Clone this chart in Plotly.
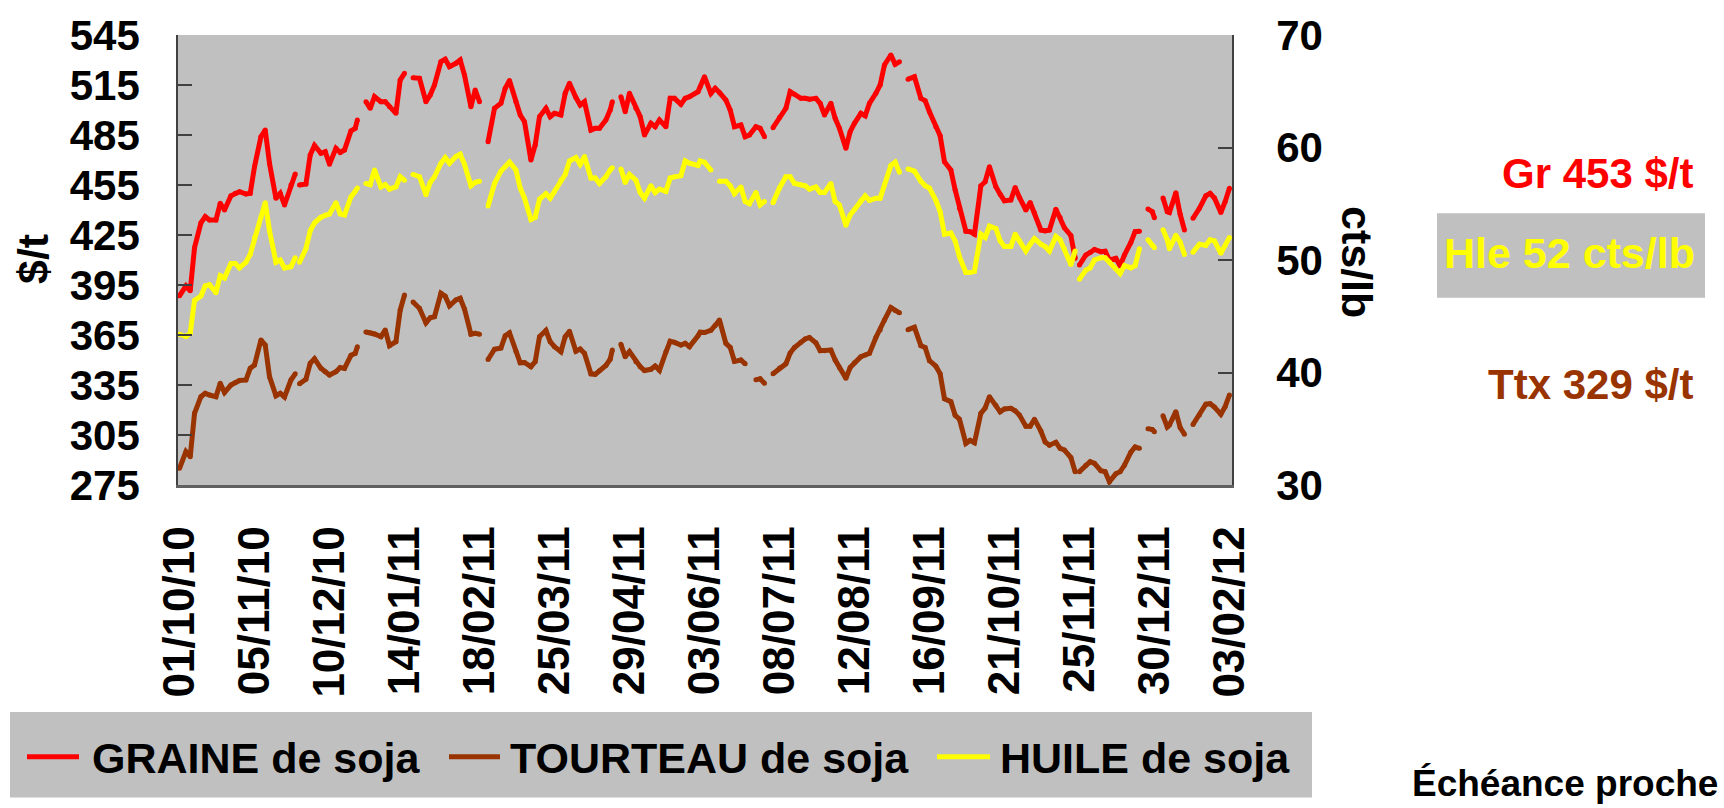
import plotly.graph_objects as go

# ---------------- data ----------------
dates = [
    "2010-10-01", "2010-10-04", "2010-10-06", "2010-10-08", "2010-10-11", "2010-10-13", "2010-10-15",
    "2010-10-18", "2010-10-20", "2010-10-22", "2010-10-25", "2010-10-27", "2010-10-29",
    "2010-11-01", "2010-11-03", "2010-11-05", "2010-11-08", "2010-11-10", "2010-11-12",
    "2010-11-15", "2010-11-17", "2010-11-19", "2010-11-22", "2010-11-24", "2010-11-25", "2010-11-26",
    "2010-11-29", "2010-12-01", "2010-12-03", "2010-12-06", "2010-12-08", "2010-12-10",
    "2010-12-13", "2010-12-15", "2010-12-17", "2010-12-20", "2010-12-22", "2010-12-23", "2010-12-24",
    "2010-12-27", "2010-12-29", "2010-12-31", "2011-01-03", "2011-01-05", "2011-01-07",
    "2011-01-10", "2011-01-12", "2011-01-14", "2011-01-17", "2011-01-18", "2011-01-21",
    "2011-01-24", "2011-01-26", "2011-01-28", "2011-01-31", "2011-02-02", "2011-02-04",
    "2011-02-07", "2011-02-09", "2011-02-11", "2011-02-14", "2011-02-16", "2011-02-18",
    "2011-02-21", "2011-02-22", "2011-02-25", "2011-02-28", "2011-03-02", "2011-03-04",
    "2011-03-07", "2011-03-09", "2011-03-11", "2011-03-14", "2011-03-16", "2011-03-18",
    "2011-03-21", "2011-03-23", "2011-03-25", "2011-03-28", "2011-03-30", "2011-04-01",
    "2011-04-04", "2011-04-06", "2011-04-08", "2011-04-11", "2011-04-13", "2011-04-15",
    "2011-04-18", "2011-04-20", "2011-04-21", "2011-04-22", "2011-04-25", "2011-04-27", "2011-04-29",
    "2011-05-02", "2011-05-04", "2011-05-06", "2011-05-09", "2011-05-11", "2011-05-13",
    "2011-05-16", "2011-05-18", "2011-05-20", "2011-05-23", "2011-05-25", "2011-05-27",
    "2011-05-31", "2011-06-01", "2011-06-03", "2011-06-06", "2011-06-08", "2011-06-10",
    "2011-06-13", "2011-06-15", "2011-06-17", "2011-06-20", "2011-06-22", "2011-06-24",
    "2011-06-27", "2011-06-29", "2011-07-01", "2011-07-04", "2011-07-05", "2011-07-08",
    "2011-07-11", "2011-07-13", "2011-07-15", "2011-07-18", "2011-07-20", "2011-07-22",
    "2011-07-25", "2011-07-27", "2011-07-29", "2011-08-01", "2011-08-03", "2011-08-05",
    "2011-08-08", "2011-08-10", "2011-08-12", "2011-08-15", "2011-08-17", "2011-08-19",
    "2011-08-22", "2011-08-24", "2011-08-26", "2011-08-29", "2011-08-31", "2011-09-02",
    "2011-09-05", "2011-09-06", "2011-09-09", "2011-09-12", "2011-09-14", "2011-09-16",
    "2011-09-19", "2011-09-21", "2011-09-23", "2011-09-26", "2011-09-28", "2011-09-30",
    "2011-10-03", "2011-10-05", "2011-10-07", "2011-10-10", "2011-10-12", "2011-10-14",
    "2011-10-17", "2011-10-19", "2011-10-21", "2011-10-24", "2011-10-26", "2011-10-28",
    "2011-10-31", "2011-11-02", "2011-11-04", "2011-11-07", "2011-11-09", "2011-11-11",
    "2011-11-14", "2011-11-16", "2011-11-18", "2011-11-21", "2011-11-23", "2011-11-24", "2011-11-25",
    "2011-11-28", "2011-11-30", "2011-12-02", "2011-12-05", "2011-12-07", "2011-12-09",
    "2011-12-12", "2011-12-14", "2011-12-16", "2011-12-19", "2011-12-21", "2011-12-23",
    "2011-12-26", "2011-12-27", "2011-12-29", "2011-12-30", "2012-01-02", "2012-01-03",
    "2012-01-05", "2012-01-06", "2012-01-09", "2012-01-11", "2012-01-13", "2012-01-16",
    "2012-01-17", "2012-01-20", "2012-01-23", "2012-01-25", "2012-01-27", "2012-01-30",
    "2012-02-01", "2012-02-03",
]

# GRAINE de soja ($/t, left axis)
graine = [
    388.5, 394.5, 391.5, 417.4, 432.3, 436, 434,
    434, 444, 440, 448.5, 450, 451,
    449.6, 450, 466, 484, 488, 468,
    447, 450, 443, 455, 461.6, None, 455,
    455.6, 473, 478.7, 474, 475, 467.5,
    477, 474.5, 476, 487.4, 489, 494, None,
    505, 501, 508, 505, 505, 502,
    498, 518, 522, None, 519.3, 519,
    505, 509, 515, 529, 530.5, 526,
    528, 530, 521, 502, 512, 505,
    None, 481, 501, 504, 513, 517.7,
    505, 497, 493, 470, 479, 496,
    501, 496, 498, 497, 510, 516,
    507.5, 503, 505, 488, 489, 489,
    494, 500, 505, None, 508, 499, 510,
    501, 496, 485, 492, 490, 494,
    490, 507, 507, 503.4, 507, 508,
    511, 514, 520, 510, 513, 510.5,
    506, 500, 490, 491, 484, 485,
    490, 489, 484, None, 489.4, 495.5,
    501, 511, 509.5, 507, 507, 506.5,
    507, 504, 497, 504, 495, 489,
    477, 487, 492, 498, 496.5, 504,
    510, 515, 527, 533, 527.5, 528.9,
    None, 518.5, 519.9, 507, 505.6, 499,
    490, 484.5, 469, 464, 452, 441,
    427.3, 427, 425.5, 454.5, 457, 466,
    454, 449.5, 445.5, 446, 453.5, 447.5,
    440, 444.5, 438.3, 428, 427.5, 428,
    440.5, 435.5, 429.3, 424.7, 411, None, 407,
    413, 414.5, 416.3, 415, 415.3, 410,
    411, 406.5, 413, 420.5, 427, 427.3,
    None, 440.6, 439, 435.3, None, 447.2,
    439, 438.5, 450.3, 437.5, 428, None,
    435, 441, 448.5, 450, 447.2, 438.5,
    445, 453,
]

# TOURTEAU de soja ($/t, left axis)
tourteau = [
    285, 295, 292, 318, 328, 330, 329,
    328, 336, 330.5, 335, 336.5, 337.7,
    338, 345, 347, 362, 359, 340,
    328.5, 330, 327.8, 338, 341.7, None, 335.7,
    338.5, 348, 350.7, 345, 343, 341,
    343, 345.5, 345, 352.8, 354, 358, None,
    366.8, 366.3, 365.6, 364, 368, 358.6,
    361, 380, 389, None, 384.8, 381,
    372.3, 375.3, 376, 390, 388.3, 382.5,
    386, 387, 380.6, 365.5, 366, 365.5,
    None, 350.3, 356.5, 357.2, 364.5, 366.3,
    355.3, 348.3, 348.5, 346, 349, 364,
    367.7, 361, 358, 355, 364, 367.3,
    355.3, 356.6, 354, 341.7, 341.4, 343.5,
    346.7, 350.5, 356, None, 359.4, 352, 355,
    349, 346, 343.7, 344.4, 346.4, 343.8,
    354.8, 361.3, 360.6, 359, 360, 358,
    364.5, 366.7, 366.5, 367.8, 370.7, 374,
    360, 357.6, 349.2, 350, 347.7, None,
    338.1, 338.7, 336, None, 341.7, 345.2,
    347.7, 354.2, 357.5, 360.6, 362.6, 363.5,
    360.3, 355.6, 355.5, 356, 350, 345.5,
    339, 345.5, 348.4, 352, 353, 354,
    363.5, 368, 374, 381.5, 379.7, 378.3,
    None, 368.2, 369.6, 358.6, 357.5, 349.6,
    346.3, 341.7, 326.8, 325, 316.8, 314.5,
    300, 301.8, 300.4, 318, 321.2, 328,
    322.8, 318.9, 320.6, 321, 319.5, 317,
    310.2, 310.2, 314.5, 307.4, 300.8, 298.9,
    300.6, 297, 296, 291.5, 283, None, 283,
    286.8, 289, 288, 283.6, 283, 277,
    281.7, 283, 286.8, 294.7, 297.8, 297,
    None, 308.8, 308.3, 307, None, 316.5,
    309.8, 311, 319, 309.5, 305.5, None,
    311.3, 317, 323.5, 323.8, 321.8, 317.5,
    322, 329,
]

# HUILE de soja (cts/lb, right axis)
huile = [
    43.4, 43.2, 43.5, 46.4, 46.8, 47.7, 47.8,
    47.1, 48.6, 48.4, 49.7, 49.7, 49.3,
    49.8, 50.5, 52, 53.8, 55.1, 52.6,
    49.8, 50, 49.3, 49.4, 50.2, None, 49.8,
    51, 52.6, 53.3, 53.8, 54, 54.1,
    55.1, 54.1, 54, 55.6, 56.1, 56.4, None,
    56.8, 56.7, 58, 56.5, 56.7, 56.3,
    56.5, 57.4, 57.1, None, 57.6, 57.4,
    55.8, 56.9, 57.4, 58.6, 59.1, 58.6,
    59.2, 59.4, 58.5, 56.6, 56.9, 57,
    None, 54.8, 56.8, 57.9, 58.3, 58.7,
    58, 56.4, 55.5, 53.6, 53.8, 55.4,
    55.9, 55.5, 56.1, 57.1, 57.6, 58.8,
    59.1, 58.5, 59.2, 57.3, 57.3, 56.8,
    57.4, 58, 58.2, None, 58.1, 56.9, 57.6,
    57.1, 56, 55.5, 56.6, 56, 56.3,
    56.1, 57.3, 57.4, 57.5, 58.8, 58.6,
    58.4, 58.8, 58.7, 58, None, 57,
    57, 56.6, 55.9, 56.5, 55.2, 55,
    56, 54.9, 55.2, None, 55.1, 56.4,
    57.4, 57.4, 56.8, 56.7, 56.6, 56.3,
    56.5, 56, 56, 56.8, 55.2, 54.9,
    53.1, 54, 54.5, 55.3, 55.7, 55.3,
    55.5, 55.5, 56.7, 58.4, 58.7, 57.8,
    None, 58.1, 57.9, 57, 56.6, 56.4,
    55.3, 54.3, 52.3, 52.4, 51.7, 50.3,
    48.9, 48.9, 49, 52.3, 52, 53,
    52.8, 51.7, 51.2, 51.2, 52.3, 51.7,
    50.8, 51.4, 51.9, 51.4, 51.2, 50.8,
    52.1, 51.8, 51, 49.6, 50.8, None, 48.3,
    49.1, 49.3, 50, 50.2, 50.2, 49.8,
    49.2, 48.8, 49.5, 49.3, 49.5, 51,
    None, 51.8, 51.3, 51.1, None, 52.7,
    51.8, 51, 52.2, 51.6, 50.5, None,
    50.7, 51.4, 51.3, 51.8, 51.7, 50.6,
    51.3, 52,
]

tick_dates = ["2010-10-01", "2010-11-05", "2010-12-10", "2011-01-14", "2011-02-18",
              "2011-03-25", "2011-04-29", "2011-06-03", "2011-07-08", "2011-08-12",
              "2011-09-16", "2011-10-21", "2011-11-25", "2011-12-30", "2012-02-03"]
tick_labels = ["01/10/10", "05/11/10", "10/12/10", "14/01/11", "18/02/11",
               "25/03/11", "29/04/11", "03/06/11", "08/07/11", "12/08/11",
               "16/09/11", "21/10/11", "25/11/11", "30/12/11", "03/02/12"]
left_ticks = [275, 305, 335, 365, 395, 425, 455, 485, 515, 545]
right_ticks = [30, 40, 50, 60, 70]

series_names = ["GRAINE de soja", "TOURTEAU de soja", "HUILE de soja"]
series_colors = ["#FF0000", "#993300", "#FFFF00"]

# ---------------- figure ----------------
W, H = 1724, 808
PL, PR, PT, PB = 178, 1232, 33, 485  # plot area in pixels
FONT = "Liberation Sans, Arial, Helvetica, sans-serif"
LW = 5


def px_x(p):
    return (p - PL) / (PR - PL)


def px_y(p):
    return (PB - p) / (PB - PT)


fig = go.Figure()
for vals, name, col, yax in zip([graine, tourteau, huile], series_names, series_colors, ["y", "y", "y2"]):
    fig.add_trace(go.Scatter(x=dates, y=vals, mode="lines+markers", name=name, yaxis=yax,
                             line=dict(color=col, width=LW),
                             marker=dict(size=LW, color=col, line=dict(width=0)),
                             connectgaps=False, showlegend=False))

tickfont = dict(family=FONT, size=42, color="black", weight="bold")

fig.update_layout(
    width=W, height=H, autosize=False,
    margin=dict(l=PL, r=W - PR, t=PT, b=H - PB, pad=0),
    paper_bgcolor="white", plot_bgcolor="#C0C0C0",
    showlegend=False,
    xaxis=dict(type="date", range=["2010-09-30 07:00", "2012-02-04 05:00"],
               tickvals=tick_dates, ticktext=tick_labels, tickangle=-90,
               tickfont=dict(family=FONT, size=44, color="black", weight="bold"),
               showgrid=False, zeroline=False, showline=True, linecolor="#606060", linewidth=2.5,
               ticks="", ticklabelstandoff=21, fixedrange=True),
    yaxis=dict(range=[275, 545], tickvals=left_ticks, tickfont=tickfont,
               ticks="inside", ticklen=14, tickwidth=1.5, tickcolor="#404040",
               showline=True, linecolor="#404040", linewidth=1.5,
               showgrid=False, zeroline=False, ticklabelstandoff=28),
    yaxis2=dict(range=[30, 70], tickvals=right_ticks, tickfont=tickfont, overlaying="y", side="right",
                ticks="inside", ticklen=14, tickwidth=1.5, tickcolor="#404040",
                showline=True, linecolor="#404040", linewidth=1.5,
                showgrid=False, zeroline=False, ticklabelstandoff=34),
)

shapes = []
annotations = []

# axis titles
annotations.append(dict(text="$/t", x=px_x(33), y=px_y(258), xref="paper", yref="paper",
                        textangle=-90, showarrow=False, xanchor="center", yanchor="middle",
                        font=dict(family=FONT, size=43, color="black", weight="bold")))
annotations.append(dict(text="cts/lb", x=px_x(1357), y=px_y(261), xref="paper", yref="paper",
                        textangle=90, showarrow=False, xanchor="center", yanchor="middle",
                        font=dict(family=FONT, size=43, color="black", weight="bold")))

# last-value labels on the right
shapes.append(dict(type="rect", xref="paper", yref="paper", x0=px_x(1437), x1=px_x(1705),
                   y0=px_y(297), y1=px_y(212), fillcolor="#C0C0C0", line=dict(width=0), layer="below"))
annotations.append(dict(text=f"Gr {graine[-1]:.0f} $/t", x=px_x(1695), y=px_y(172), xref="paper",
                        yref="paper", showarrow=False, xanchor="right", yanchor="middle",
                        font=dict(family=FONT, size=42, color=series_colors[0], weight="bold")))
annotations.append(dict(text=f"Hle {huile[-1]:.0f} cts/lb", x=px_x(1697), y=px_y(252), xref="paper",
                        yref="paper", showarrow=False, xanchor="right", yanchor="middle",
                        font=dict(family=FONT, size=43, color=series_colors[2], weight="bold")))
annotations.append(dict(text=f"Ttx {tourteau[-1]:.0f} $/t", x=px_x(1695), y=px_y(384), xref="paper",
                        yref="paper", showarrow=False, xanchor="right", yanchor="middle",
                        font=dict(family=FONT, size=42, color=series_colors[1], weight="bold")))

annotations.append(dict(text="Échéance proche", x=px_x(1720), y=px_y(785), xref="paper", yref="paper",
                        showarrow=False, xanchor="right", yanchor="middle",
                        font=dict(family=FONT, size=37, color="black", weight="bold")))

# legend box
shapes.append(dict(type="rect", xref="paper", yref="paper", x0=px_x(10), x1=px_x(1312),
                   y0=px_y(799), y1=px_y(713), fillcolor="#C0C0C0", line=dict(width=0), layer="below"))
legend_items = [(27, 79, 90), (449, 500, 508), (937, 990, 998)]
for (s0, s1, tx), name, col in zip(legend_items, series_names, series_colors):
    shapes.append(dict(type="line", xref="paper", yref="paper", x0=px_x(s0), x1=px_x(s1),
                       y0=px_y(758), y1=px_y(758), line=dict(color=col, width=5)))
    annotations.append(dict(text=name, x=px_x(tx), y=px_y(759), xref="paper", yref="paper",
                            showarrow=False, xanchor="left", yanchor="middle",
                            font=dict(family=FONT, size=43, color="black", weight="bold")))

fig.update_layout(shapes=shapes, annotations=annotations)
fig.write_html("out.html", config={"displayModeBar": False},
               post_script="document.body.style.margin='0px';")
